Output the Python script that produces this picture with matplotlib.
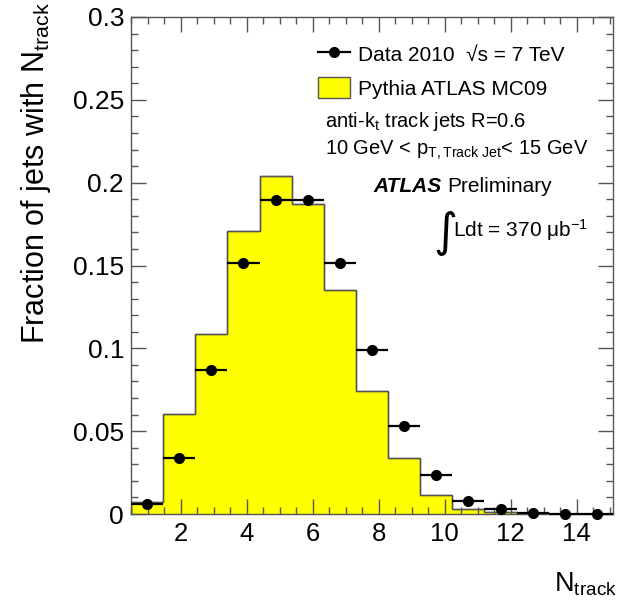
import numpy as np
import matplotlib
matplotlib.use("Agg")
import matplotlib.pyplot as plt
from matplotlib.lines import Line2D
from matplotlib.patches import Patch
from matplotlib.ticker import MultipleLocator

plt.rcParams["font.family"] = ["Liberation Sans", "DejaVu Sans"]
plt.rcParams["mathtext.fontset"] = "custom"
plt.rcParams["mathtext.rm"] = "Liberation Sans"
plt.rcParams["mathtext.it"] = "Liberation Sans"
plt.rcParams["mathtext.bf"] = "Liberation Sans:bold"
plt.rcParams["axes.unicode_minus"] = False

# Track-multiplicity histogram: 15 bins
bin_edges = np.linspace(0.5, 15.1, 16)
mc_fraction = [0.0074, 0.0602, 0.1087, 0.1710, 0.2042, 0.1870, 0.1352, 0.0741,
               0.0340, 0.0113, 0.0028, 0.0014, 0.0005, 0.0002, 0.0001]
data_fraction = [0.0062, 0.0336, 0.0869, 0.1513, 0.1893, 0.1893, 0.1513, 0.0990,
                 0.0533, 0.0233, 0.0080, 0.0028, 0.0006, 0.0001, 0.0001]

W, H = 628, 605
fig = plt.figure(figsize=(W / 100, H / 100), dpi=100)
ax = fig.add_axes([131 / W, 1 - 514 / H, (613 - 131) / W, (514 - 17) / H])

edge_col = "#555555"
ax.stairs(mc_fraction, bin_edges, fill=True, facecolor="#ffff00",
          edgecolor=edge_col, linewidth=1.0, baseline=0)
ax.stairs(mc_fraction, bin_edges, fill=False, color=edge_col, linewidth=1.0)

centers = 0.5 * (bin_edges[:-1] + bin_edges[1:])
half_w = 0.5 * np.diff(bin_edges)
ax.errorbar(centers, data_fraction, xerr=half_w, fmt="o", color="black",
            markersize=7, elinewidth=1.6, capsize=0, zorder=5, clip_on=False)

ax.set_xlim(bin_edges[0], bin_edges[-1])
ax.set_ylim(0, 0.3)
ax.xaxis.set_major_locator(MultipleLocator(2))
ax.xaxis.set_minor_locator(MultipleLocator(0.5))
ax.yaxis.set_major_locator(MultipleLocator(0.05))
ax.yaxis.set_minor_locator(MultipleLocator(0.01))
ax.set_yticks([0, 0.05, 0.1, 0.15, 0.2, 0.25, 0.3])
ax.set_yticklabels(["0", "0.05", "0.1", "0.15", "0.2", "0.25", "0.3"])
ax.tick_params(which="both", direction="in", top=True, right=True,
               color=edge_col, width=1.0)
ax.tick_params(which="major", length=10.5)
ax.tick_params(which="minor", length=5)
ax.tick_params(axis="y", which="major", labelsize=19, pad=5)
ax.tick_params(axis="x", which="major", labelsize=18.5, pad=6)
for sp in ax.spines.values():
    sp.set_color(edge_col)
    sp.set_linewidth(1.0)


def fx(px):
    return px / W


def fy(py):
    return 1 - py / H


fig.text(fx(36), fy(2), r"Fraction of jets with N$_{\mathrm{track}}$",
         rotation=90, ha="center", va="top", fontsize=22)
fig.text(fx(554), fy(591), r"N$_{\mathrm{track}}$", ha="left",
         va="baseline", fontsize=19.5)

handles = [Line2D([], [], color="black", marker="o", markersize=7, lw=1.6),
           Patch(facecolor="#ffff00", edgecolor=edge_col, linewidth=1.0)]
labels = ["Data 2010  \u221as = 7 TeV", "Pythia ATLAS MC09"]
fig.legend(handles, labels, loc="upper left",
           bbox_to_anchor=(fx(318), fy(43)), frameon=False, fontsize=15,
           handlelength=1.55, handleheight=1.15, handletextpad=0.35,
           labelspacing=0.62, borderpad=0, borderaxespad=0)

fig.text(fx(325), fy(127), r"anti-k$_{\mathrm{t}}$ track jets R=0.6",
         fontsize=14.5, va="baseline")
fig.text(fx(325), fy(155),
         r"10 GeV < p$_{\mathrm{T,Track\ Jet}}$< 15 GeV",
         fontsize=14.5, va="baseline")
fig.text(fx(373), fy(192), "ATLAS", fontsize=15, fontweight="bold",
         fontstyle="italic", va="baseline")
fig.text(fx(447), fy(192), "Preliminary", fontsize=15, va="baseline")
fig.text(fx(433), fy(246), "\u222b", fontsize=33, va="baseline",
         family=["DejaVu Sans"])
fig.text(fx(453), fy(237), "Ldt = 370 \u03bcb$^{\\mathrm{-1}}$",
         fontsize=15, va="baseline")

fig.savefig("out.png", dpi=100)
